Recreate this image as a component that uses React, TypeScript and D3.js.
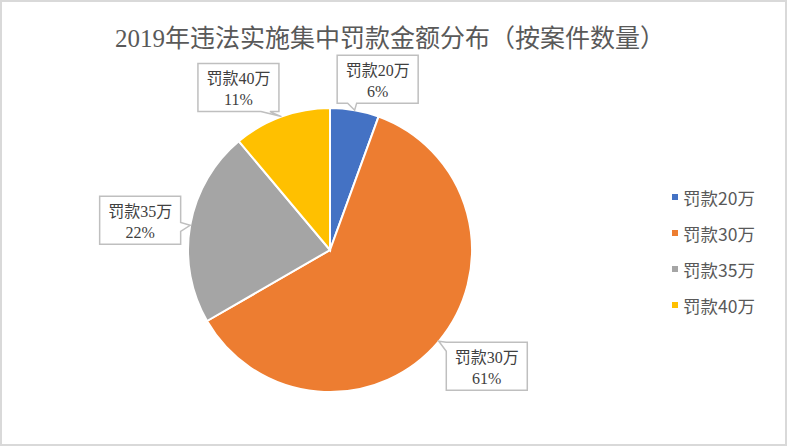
import React, { useEffect } from "react";
import * as d3 from "d3";

const title = "2019年违法实施集中罚款金额分布（按案件数量）";
const categories = ["罚款20万", "罚款30万", "罚款35万", "罚款40万"];
const counts = [2, 22, 8, 4];
const colors = ["#4472C4", "#ED7D31", "#A5A5A5", "#FFC000"];

// label callout layout: offset of box centre from the slice's outer mid-point
const labelOffsets = [
  [23, -31],
  [48, 25],
  [-50, -5],
  [-43, -29],
];

const W = 787;
const H = 446;
const cx = 330;
const cy = 250;
const R = 142;

function calloutPath(x0: number, y0: number, x1: number, y1: number, tx: number, ty: number) {
  const ww = 9;
  const clamp = (v: number, a: number, b: number) => Math.max(a, Math.min(b, v));
  const dx = tx < x0 ? x0 - tx : tx > x1 ? tx - x1 : 0;
  const dy = ty < y0 ? y0 - ty : ty > y1 ? ty - y1 : 0;
  let edge = "none";
  if (dy >= dx && dy > 0) edge = ty < y0 ? "top" : "bottom";
  else if (dx > 0) edge = tx < x0 ? "left" : "right";
  const ah = clamp(tx - 7, x0, x1 - 18);
  const av = clamp(ty - 3, y0, y1 - ww);
  const p = d3.path();
  p.moveTo(x0, y0);
  if (edge === "top") {
    p.lineTo(ah, y0);
    p.lineTo(tx, ty);
    p.lineTo(ah + ww, y0);
  }
  p.lineTo(x1, y0);
  if (edge === "right") {
    p.lineTo(x1, av);
    p.lineTo(tx, ty);
    p.lineTo(x1, av + ww);
  }
  p.lineTo(x1, y1);
  if (edge === "bottom") {
    p.lineTo(ah + ww, y1);
    p.lineTo(tx, ty);
    p.lineTo(ah, y1);
  }
  p.lineTo(x0, y1);
  if (edge === "left") {
    p.lineTo(x0, av + ww);
    p.lineTo(tx, ty);
    p.lineTo(x0, av);
  }
  p.closePath();
  return p.toString();
}

export default function App() {
  useEffect(() => {
    document.body.style.margin = "0";
  }, []);

  const pie = d3
    .pie<number>()
    .sort(null)
    .value((d) => d)
    .startAngle(0)
    .endAngle(2 * Math.PI);
  const arcs = pie(counts);
  const arc = d3.arc<d3.PieArcDatum<number>>().innerRadius(0).outerRadius(R);
  const total = d3.sum(counts);
  const fmt = d3.format(".0%");

  const serif = "'Liberation Serif', 'Times New Roman', 'Noto Sans CJK SC', serif";
  const sans = "'Noto Sans CJK SC', 'Noto Sans', sans-serif";

  const legendY = d3.scalePoint<string>().domain(categories).range([197, 305]);

  const boxW = 81;
  const boxH = 48;

  return (
    <svg width={W} height={H} style={{ display: "block" }}>
      <rect x={0} y={0} width={W} height={H} fill="#ffffff" />
      <rect x={1} y={1} width={W - 2} height={H - 2} fill="none" stroke="#d9d9d9" strokeWidth={2} />
      <text
        x={390}
        y={38}
        textAnchor="middle"
        dominantBaseline="central"
        fontFamily={serif}
        fontSize={25}
        fill="#595959"
      >
        {title}
      </text>
      <g transform={`translate(${cx},${cy})`}>
        {arcs.map((a, i) => (
          <path key={i} d={arc(a) || ""} fill={colors[i]} stroke="#ffffff" strokeWidth={2} />
        ))}
      </g>
      {arcs.map((a, i) => {
        const mid = (a.startAngle + a.endAngle) / 2;
        const tx = cx + R * Math.sin(mid);
        const ty = cy - R * Math.cos(mid);
        const bx = tx + labelOffsets[i][0];
        const by = ty + labelOffsets[i][1];
        const x0 = bx - boxW / 2;
        const y0 = by - boxH / 2;
        return (
          <g key={i}>
            <path
              d={calloutPath(x0, y0, x0 + boxW, y0 + boxH, tx, ty)}
              fill="#ffffff"
              stroke="#bfbfbf"
              strokeWidth={1.5}
              strokeLinejoin="miter"
            />
            <text
              x={bx}
              y={by - 9}
              textAnchor="middle"
              dominantBaseline="central"
              fontFamily={serif}
              fontSize={16}
              fill="#404040"
            >
              {categories[i]}
            </text>
            <text
              x={bx}
              y={by + 12}
              textAnchor="middle"
              dominantBaseline="central"
              fontFamily={serif}
              fontSize={16}
              fill="#404040"
            >
              {fmt(counts[i] / total)}
            </text>
          </g>
        );
      })}
      {categories.map((c, i) => (
        <g key={c}>
          <rect x={672} y={(legendY(c) || 0) - 3} width={6} height={6} fill={colors[i]} />
          <text
            x={683}
            y={legendY(c) || 0}
            dominantBaseline="central"
            fontFamily={sans}
            fontSize={17.5}
            fill="#595959"
          >
            {c}
          </text>
        </g>
      ))}
    </svg>
  );
}
